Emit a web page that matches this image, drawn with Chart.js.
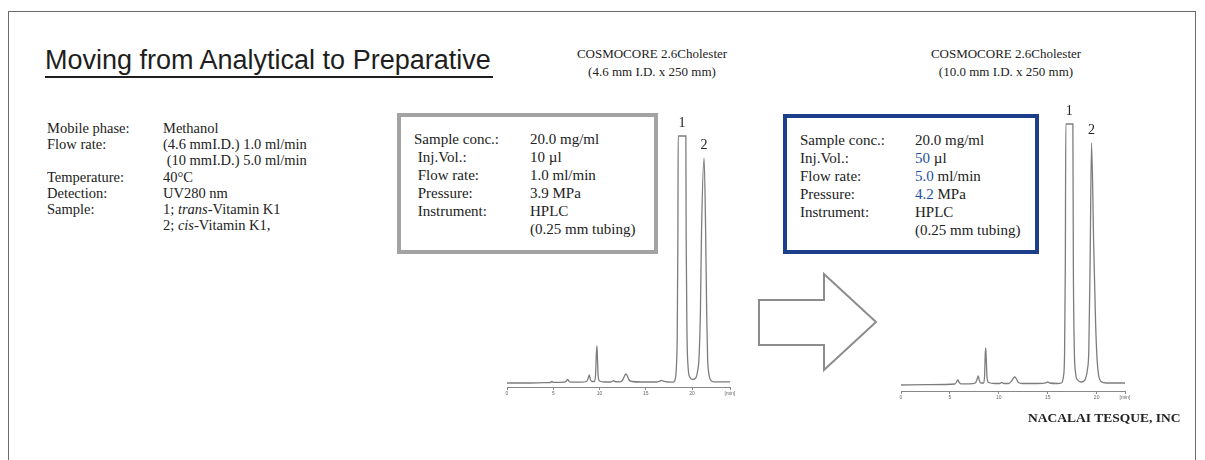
<!DOCTYPE html>
<html>
<head>
<meta charset="utf-8">
<script src="https://cdn.jsdelivr.net/npm/chart.js@4.4.1/dist/chart.umd.min.js"></script>
<style>
  body { margin: 0; background: #fff; }
  #page { position: relative; width: 1205px; height: 460px; overflow: hidden; font-family: "Liberation Serif", "Times New Roman", serif; color: #222; }
  .frame { position: absolute; left: 8px; top: 11px; width: 1188px; height: 500px; border: 1px solid #6b6b6b; box-sizing: border-box; }
  .title { position: absolute; left: 45px; top: 47px; font: 27px/27px "Liberation Sans", Arial, sans-serif; color: #1e1e1e; white-space: nowrap; }
  .uline { position: absolute; left: 45px; top: 76px; width: 448px; height: 2px; background: #1e1e1e; }
  .cond { position: absolute; left: 47px; top: 120px; font-size: 14.5px; }
  .cond div { position: relative; height: 16.2px; line-height: 16.2px; white-space: nowrap; }
  .cond span.v { position: absolute; left: 116px; top: 0; }
  .head { position: absolute; width: 260px; text-align: center; font-size: 13px; line-height: 18px; }
  .box { position: absolute; box-sizing: border-box; border: 4px solid #a3a3a3; font-size: 15px; padding-top: 13px; }
  .box div { position: relative; height: 18px; line-height: 18px; white-space: nowrap; }
  .box span.v { position: absolute; top: 0; }
  .blue { color: #22509e; }
  .foot { position: absolute; left: 1028px; top: 409px; font: bold 13.5px/18px "Liberation Serif", serif; color: #222; }
  canvas { position: absolute; }
</style>
</head>
<body>
<div id="page">
  <div class="frame"></div>
  <div class="title">Moving from Analytical to Preparative</div>
  <div class="uline"></div>

  <div class="cond">
    <div>Mobile phase:<span class="v">Methanol</span></div>
    <div>Flow rate:<span class="v">(4.6 mmI.D.) 1.0 ml/min</span></div>
    <div><span class="v">&nbsp;(10 mmI.D.) 5.0 ml/min</span></div>
    <div>Temperature:<span class="v">40°C</span></div>
    <div>Detection:<span class="v">UV280 nm</span></div>
    <div>Sample:<span class="v">1; <i>trans</i>-Vitamin K1</span></div>
    <div><span class="v">2; <i>cis</i>-Vitamin K1,</span></div>
  </div>

  <div class="head" style="left:522px; top:45px;">COSMOCORE 2.6Cholester<br>(4.6 mm I.D. x 250 mm)</div>
  <div class="head" style="left:876px; top:45px;">COSMOCORE 2.6Cholester<br>(10.0 mm I.D. x 250 mm)</div>

  <div class="box" style="left:397px; top:113px; width:261px; height:141px; padding-left:13px;">
    <div>Sample conc.:<span class="v" style="left:116px">20.0 mg/ml</span></div>
    <div>&nbsp;Inj.Vol.:<span class="v" style="left:116px">10 µl</span></div>
    <div>&nbsp;Flow rate:<span class="v" style="left:116px">1.0 ml/min</span></div>
    <div>&nbsp;Pressure:<span class="v" style="left:116px">3.9 MPa</span></div>
    <div>&nbsp;Instrument:<span class="v" style="left:116px">HPLC</span></div>
    <div><span class="v" style="left:116px">(0.25 mm tubing)</span></div>
  </div>

  <div class="box" style="left:783px; top:114px; width:256px; height:140px; padding-left:13px; border-color:#1d3f8b;">
    <div>Sample conc.:<span class="v" style="left:115px">20.0 mg/ml</span></div>
    <div>Inj.Vol.:<span class="v" style="left:115px"><span class="blue">50</span> µl</span></div>
    <div>Flow rate:<span class="v" style="left:115px"><span class="blue">5.0</span> ml/min</span></div>
    <div>Pressure:<span class="v" style="left:115px"><span class="blue">4.2</span> MPa</span></div>
    <div>Instrument:<span class="v" style="left:115px">HPLC</span></div>
    <div><span class="v" style="left:115px">(0.25 mm tubing)</span></div>
  </div>

  <svg style="position:absolute; left:0; top:0;" width="1205" height="460">
    <polygon points="759,300 824,300 824,274 876,322 824,370 824,345 759,345" fill="#fff" stroke="#8c8c8c" stroke-width="2"/>
  </svg>

  <canvas id="chrom1" width="250" height="310" style="left:497px; top:100px;"></canvas>
  <canvas id="chrom2" width="250" height="310" style="left:891px; top:100px;"></canvas>

  <div class="foot">NACALAI TESQUE, INC</div>
</div>

<script>
// analytical column 4.6 mm I.D. (time in min, signal in arbitrary units)
const time1 = [0, 2.5, 4.0, 4.7, 4.85, 5.0, 6.2, 6.4, 6.55, 6.7, 6.9, 8.0, 8.6, 8.78, 8.9, 9.0, 9.15, 9.45, 9.57, 9.65, 9.72, 9.78, 9.86, 10.0, 10.5, 11.2, 11.4, 11.5, 11.65, 12.2, 12.5, 12.7, 12.85, 13.0, 13.2, 13.5, 14.5, 16.2, 16.5, 16.7, 16.9, 17.4, 18.0, 18.15, 18.3, 18.4, 18.47, 18.5, 19.33, 19.36, 19.45, 19.58, 19.75, 20.05, 20.4, 20.6, 20.75, 20.9, 21.02, 21.3, 21.47, 21.58, 21.68, 21.8, 22.0, 22.3, 24.1];
const signal1 = [0, 0, 0.3, 0.5, 1.5, 0.6, 0.8, 1.8, 3.5, 1.8, 0.8, 0.8, 1.5, 5, 8, 4, 1.5, 1.5, 8, 28, 37, 24, 6, 2, 1, 1, 1.8, 2.4, 1.5, 1.2, 3, 7, 9, 7, 3, 1.5, 1, 1, 1.8, 2.6, 1.8, 1, 0.8, 3, 15, 50, 150, 247, 247, 150, 50, 15, 6, 3.5, 5, 12, 25, 70, 150, 225, 150, 70, 25, 10, 3, 1.2, 1.2];

// preparative column 10.0 mm I.D.
const time2 = [0, 2.5, 4.5, 5.5, 5.68, 5.8, 5.92, 6.1, 7.0, 7.6, 7.78, 7.9, 8.0, 8.15, 8.45, 8.55, 8.61, 8.66, 8.72, 8.8, 8.95, 9.6, 10.1, 10.3, 10.5, 11.0, 11.3, 11.5, 11.65, 11.8, 12.0, 12.4, 14.0, 14.8, 15.0, 15.2, 16.0, 16.4, 16.6, 16.72, 16.8, 16.85, 17.57, 17.62, 17.72, 17.85, 18.05, 18.45, 18.85, 19.05, 19.2, 19.33, 19.48, 19.7, 19.9, 20.05, 20.2, 20.45, 21.0, 22.9];
const signal2 = [0, 0.3, 0.5, 1, 3, 5, 3, 1.2, 1.2, 2, 6, 9, 5, 2, 2, 10, 30, 37, 25, 7, 2.5, 1.5, 1.5, 2.6, 1.5, 1.5, 4, 7, 8, 6, 2.5, 1.5, 1.5, 2.2, 3, 2, 1.5, 2, 8, 30, 120, 261, 261, 120, 35, 12, 5, 3, 6, 15, 35, 120, 242, 140, 60, 25, 10, 3.5, 2, 2];

const ticks1 = [0, 5, 10, 15, 20, 24.1];
const ticks2 = [0, 5, 10, 15, 20, 22.9];
const peakLabels = ['1', '2'];
const peaks1 = [18.9, 21.3];
const peakTop1 = [247, 225];
const peaks2 = [17.2, 19.48];
const peakTop2 = [261, 242];

const peakLabelPlugin = {
    id: 'peakLabels',
    afterDatasetsDraw(chart, args, opts) {
        const { ctx } = chart;
        ctx.save();
        ctx.font = '14px "Liberation Serif", serif';
        ctx.fillStyle = '#222';
        ctx.textAlign = 'center';
        ctx.textBaseline = 'middle';
        opts.times.forEach((t, i) => {
            const x = chart.scales.x.getPixelForValue(t);
            const y = chart.scales.y.getPixelForValue(opts.tops[i]) - 13;
            ctx.fillText(peakLabels[i], x, y);
        });
        ctx.restore();
    }
};

const makeChrom = (id, times, signals, tickVals, pkTimes, pkTops, yMin, yMax, pad) => {
    const ctx = document.getElementById(id);
    return new Chart(ctx, {
        type: 'line',
        data: {
            datasets: [{
                data: times.map((t, i) => ({ x: t, y: signals[i] })),
                borderColor: '#7d7d7d',
                borderWidth: 1.3,
                pointRadius: 0,
                cubicInterpolationMode: 'monotone',
                fill: false
            }]
        },
        options: {
            responsive: false,
            animation: false,
            layout: { padding: pad },
            plugins: {
                legend: { display: false },
                tooltip: { enabled: false },
                peakLabels: { times: pkTimes, tops: pkTops }
            },
            scales: {
                x: {
                    type: 'linear',
                    min: 0,
                    max: tickVals[tickVals.length - 1],
                    afterBuildTicks: (scale) => { scale.ticks = tickVals.map(v => ({ value: v })); },
                    grid: { display: true, drawOnChartArea: false, tickLength: 3, color: '#888' },
                    border: { display: true, color: '#888', width: 1 },
                    ticks: {
                        autoSkip: false,
                        maxRotation: 0,
                        padding: 1,
                        color: '#666',
                        font: { size: 5, family: 'Liberation Sans' },
                        callback: (v) => v === tickVals[tickVals.length - 1] ? '[min]' : v
                    }
                },
                y: { display: false, min: yMin, max: yMax }
            }
        },
        plugins: [peakLabelPlugin]
    });
};

makeChrom('chrom1', time1, signal1, ticks1, peaks1, peakTop1, -4, 273, { left: 10, right: 17, top: 10, bottom: 12 });
makeChrom('chrom2', time2, signal2, ticks2, peaks2, peakTop2, -6, 275, { left: 10, right: 16, top: 10, bottom: 8 });
</script>
</body>
</html>
